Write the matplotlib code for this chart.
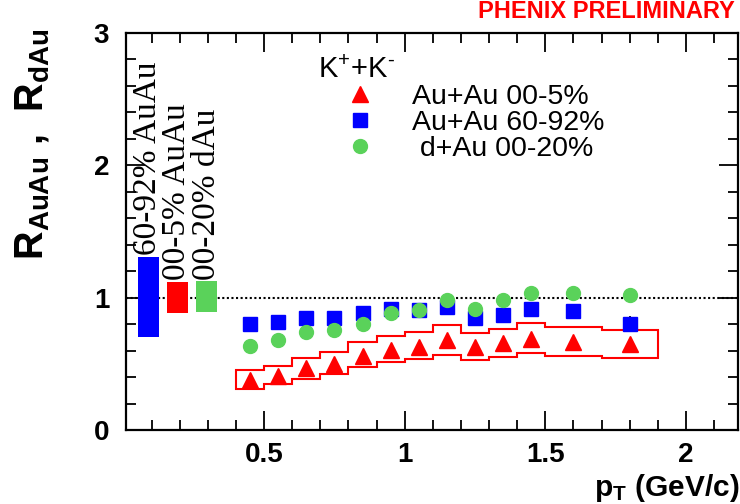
import matplotlib
matplotlib.use("Agg")
import matplotlib.pyplot as plt
from matplotlib.lines import Line2D
from matplotlib.patches import Polygon
from matplotlib.ticker import MultipleLocator, FixedLocator, FuncFormatter
import numpy as np

plt.rcParams['font.family'] = ['Liberation Sans', 'DejaVu Sans']
plt.rcParams['mathtext.fontset'] = 'custom'
plt.rcParams['mathtext.rm'] = 'Liberation Sans'
plt.rcParams['mathtext.it'] = 'Liberation Sans:italic'
plt.rcParams['mathtext.bf'] = 'Liberation Sans:bold'

# ---------------- data ----------------
pt = [0.45, 0.55, 0.65, 0.75, 0.85, 0.95, 1.05, 1.15, 1.25, 1.35, 1.45, 1.6, 1.8]
bin_edges = [0.4, 0.5, 0.6, 0.7, 0.8, 0.9, 1.0, 1.1, 1.2, 1.3, 1.4, 1.5, 1.7, 1.9]

raa_central = [0.377, 0.408, 0.465, 0.497, 0.559, 0.601, 0.628, 0.676, 0.624, 0.654, 0.688, 0.663, 0.647]
sys_central_lo = [0.307, 0.345, 0.382, 0.420, 0.473, 0.516, 0.533, 0.570, 0.528, 0.548, 0.578, 0.561, 0.540]
sys_central_hi = [0.452, 0.485, 0.540, 0.590, 0.661, 0.708, 0.741, 0.791, 0.729, 0.766, 0.809, 0.776, 0.754]

raa_periph = [0.804, 0.812, 0.849, 0.842, 0.885, 0.910, 0.904, 0.932, 0.844, 0.867, 0.910, 0.899, 0.804]
err_periph = [0, 0, 0, 0, 0, 0, 0, 0, 0, 0, 0.055, 0, 0.06]

rdau = [0.633, 0.678, 0.739, 0.756, 0.804, 0.887, 0.904, 0.985, 0.916, 0.980, 1.032, 1.038, 1.017]
err_dau = [0, 0, 0, 0, 0, 0, 0, 0, 0, 0, 0.05, 0, 0]

# global normalisation uncertainty boxes
glob_labels = ['60-92% AuAu', '00-5% AuAu', '00-20% dAu']
glob_x = [0.0875, 0.191, 0.2965]
glob_lo = [0.70, 0.88, 0.89]
glob_hi = [1.31, 1.12, 1.125]

legend_labels = ['Au+Au 00-5%', 'Au+Au 60-92%', ' d+Au 00-20%']

RED = '#ff0000'
BLUE = '#0000ff'
GREEN = '#5ad25a'

# ---------------- figure ----------------
W, H = 740, 504
fig = plt.figure(figsize=(W / 100, H / 100), dpi=100)
ax = fig.add_axes([126 / W, 1 - 430 / H, 612 / W, (430 - 32.7) / H])
ax.set_xlim(0.009, 2.185)
ax.set_ylim(0, 3)

# reference line
ax.axhline(1.0, color='black', lw=1.5, ls=(0, (1, 1.2)), zorder=1)

# global boxes
gw = 0.075
ax.bar(glob_x, np.array(glob_hi) - np.array(glob_lo), bottom=glob_lo, width=gw,
       color=[BLUE, RED, GREEN], edgecolor='none', zorder=2)
for gx, ghi, lab in zip(glob_x, glob_hi, glob_labels):
    ax.text(gx, ghi + 0.01, lab, rotation=90, ha='center', va='bottom',
            fontsize=24, family='Liberation Serif', zorder=3)

# systematic band (outline of stacked boxes) for central Au+Au
top = []
bot = []
for i in range(len(pt)):
    top += [(bin_edges[i], sys_central_hi[i]), (bin_edges[i + 1], sys_central_hi[i])]
    bot += [(bin_edges[i], sys_central_lo[i]), (bin_edges[i + 1], sys_central_lo[i])]
poly = Polygon(top + bot[::-1], closed=True, fill=False, edgecolor=RED, lw=1.5, zorder=3)
ax.add_patch(poly)

# error bars
ax.errorbar(pt, raa_periph, yerr=err_periph, fmt='none', ecolor='black', elinewidth=1.2, zorder=3)
ax.errorbar(pt, rdau, yerr=err_dau, fmt='none', ecolor='black', elinewidth=1.2, zorder=3)

# data markers
ax.plot(pt, raa_central, '^', color=RED, ms=11, mec=RED, zorder=4)
ax.plot(pt, raa_periph, 's', color=BLUE, ms=9.6, mec=BLUE, zorder=5)
ax.plot(pt, rdau, 'o', color=GREEN, ms=10, mec=GREEN, zorder=6)

# ticks
ax.xaxis.set_major_locator(FixedLocator([0.5, 1.0, 1.5, 2.0]))
ax.xaxis.set_minor_locator(MultipleLocator(0.1))
ax.yaxis.set_major_locator(MultipleLocator(1))
ax.yaxis.set_minor_locator(MultipleLocator(0.2))
ax.xaxis.set_major_formatter(FuncFormatter(lambda v, p: f"{v:g}"))
ax.yaxis.set_major_formatter(FuncFormatter(lambda v, p: f"{v:g}"))
ax.tick_params(which='both', direction='in', top=True, right=True, width=1.3, color='black')
ax.tick_params(which='major', length=14)
ax.tick_params(which='minor', length=7)
ax.tick_params(axis='x', which='major', pad=9)
ax.tick_params(axis='y', which='major', pad=12)
for lab in ax.get_xticklabels() + ax.get_yticklabels():
    lab.set_fontsize(20)
    lab.set_fontweight('bold')
for s in ax.spines.values():
    s.set_linewidth(1.6)

# axis titles
fig.text(33 / W, 1 - 29 / H, r'$\mathbf{R_{AuAu}}$ ,  $\mathbf{R_{dAu}}$', rotation=90,
         ha='center', va='top', fontsize=28.5, fontweight='bold')
fig.text(739 / W, 1 - 488 / H, r'$\mathbf{p_T}$ (GeV/c)', ha='right', va='center',
         fontsize=21.5, fontweight='bold')
fig.text(735 / W, 1 - 12 / H, 'PHENIX PRELIMINARY', color=RED, ha='right', va='center',
         fontsize=17, fontweight='bold')

# legend
handles = [Line2D([], [], ls='none', marker='^', color=RED, mec=RED, ms=11),
           Line2D([], [], ls='none', marker='s', color=BLUE, mec=BLUE, ms=9.6),
           Line2D([], [], ls='none', marker='o', color=GREEN, mec=GREEN, ms=10)]
leg = ax.legend(handles, legend_labels, title='K$^{+}$+K$^{\u2010}$', title_fontsize=21,
                fontsize=20.5, loc='upper left', bbox_to_anchor=(318 / W, 1 - 56 / H),
                bbox_transform=fig.transFigure, frameon=False, borderpad=0,
                handlelength=2.95, handletextpad=0.35, labelspacing=0.0,
                alignment='left', numpoints=1, borderaxespad=0)

fig.savefig('out.png', dpi=100)
